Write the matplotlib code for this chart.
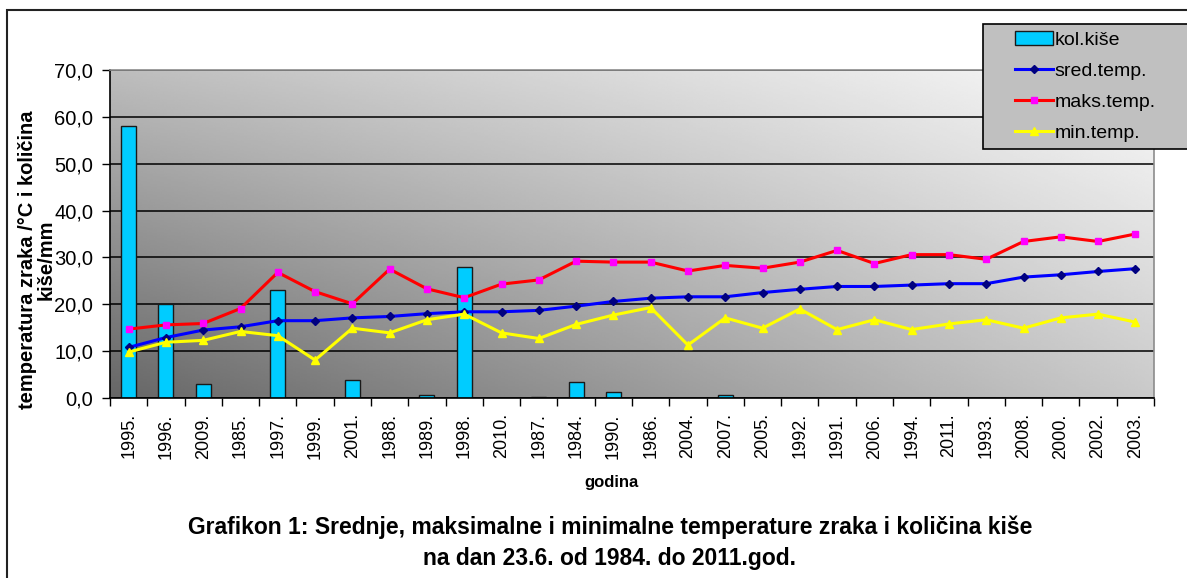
import numpy as np
import matplotlib
matplotlib.use("Agg")
import matplotlib.pyplot as plt
from matplotlib.patches import Rectangle
from matplotlib.ticker import FuncFormatter

plt.rcParams['font.family'] = ['Liberation Sans', 'DejaVu Sans']

# data
godine = ["1995.", "1996.", "2009.", "1985.", "1997.", "1999.", "2001.", "1988.",
          "1989.", "1998.", "2010.", "1987.", "1984.", "1990.", "1986.", "2004.",
          "2007.", "2005.", "1992.", "1991.", "2006.", "1994.", "2011.", "1993.",
          "2008.", "2000.", "2002.", "2003."]
kol_kise = [58.0, 20.0, 2.9, 0.0, 23.0, 0.0, 3.8, 0.0,
            0.6, 28.0, 0.0, 0.3, 3.5, 1.3, 0.0, 0.0,
            0.6, 0.0, 0.0, 0.0, 0.0, 0.0, 0.0, 0.0,
            0.0, 0.0, 0.0, 0.0]
sred_temp = [10.8, 12.9, 14.5, 15.2, 16.5, 16.5, 17.1, 17.4,
             18.0, 18.4, 18.4, 18.7, 19.6, 20.6, 21.3, 21.6,
             21.6, 22.5, 23.2, 23.8, 23.8, 24.1, 24.4, 24.4,
             25.8, 26.3, 27.0, 27.6]
maks_temp = [14.7, 15.6, 15.9, 19.1, 26.8, 22.7, 20.1, 27.5,
             23.3, 21.4, 24.3, 25.2, 29.2, 29.0, 29.0, 27.1,
             28.3, 27.7, 29.0, 31.5, 28.7, 30.6, 30.6, 29.6,
             33.4, 34.4, 33.4, 35.0]
min_temp = [9.8, 11.9, 12.3, 14.2, 13.3, 8.1, 14.9, 13.9,
            16.7, 17.9, 13.9, 12.7, 15.7, 17.7, 19.3, 11.3,
            17.1, 14.9, 19.0, 14.6, 16.7, 14.6, 15.8, 16.7,
            14.9, 17.1, 17.9, 16.2]

W, H = 1187, 578
fig = plt.figure(figsize=(W / 100, H / 100), dpi=100)
ax = fig.add_axes([110 / W, 180 / H, 1044 / W, 328 / H])

x = np.arange(len(godine))
ax.set_xlim(-0.5, len(godine) - 0.5)
ax.set_ylim(0, 70)

# grey gradient background, dark lower left -> light upper right
gx, gy = np.meshgrid(np.linspace(0, 1, 300), np.linspace(0, 1, 200))
grad = (0.40 * (1 - gx) * (1 - gy) + 0.79 * gx * (1 - gy)
        + 0.74 * (1 - gx) * gy + 0.98 * gx * gy)
ax.imshow(grad, cmap='gray', vmin=0, vmax=1, origin='lower', aspect='auto',
          extent=(-0.5, len(godine) - 0.5, 0, 70), zorder=0, interpolation='bilinear')

ax.set_axisbelow(True)
ax.yaxis.grid(True, color='black', lw=1.1)

bars = ax.bar(x, kol_kise, width=0.4, color='#00ccff', edgecolor='#1a1a1a', lw=1.0,
              zorder=2, label='kol.kiše')
l1, = ax.plot(x, sred_temp, color='#0000ff', lw=2.2, marker='D', ms=4.5,
              mfc='#000080', mec='#000080', zorder=3, label='sred.temp.')
l2, = ax.plot(x, maks_temp, color='#ff0000', lw=2.2, marker='s', ms=5,
              mfc='#ff00ff', mec='#ff00ff', zorder=3, label='maks.temp.')
l3, = ax.plot(x, min_temp, color='#ffff00', lw=2.2, marker='^', ms=6,
              mfc='#ffff00', mec='#ffff00', zorder=3, label='min.temp.')

ax.set_yticks(np.arange(0, 71, 10))
ax.yaxis.set_major_formatter(FuncFormatter(lambda v, p: f"{v:.1f}".replace('.', ',')))
ax.tick_params(axis='y', direction='out', length=6, width=1, labelsize=14.5, pad=6)

ax.set_xticks(x)
ax.set_xticklabels(godine, rotation=90, fontsize=13)
ax.set_xticks(np.arange(-0.5, len(godine), 1), minor=True)
ax.tick_params(axis='x', which='major', length=0, pad=11)
ax.tick_params(axis='x', which='minor', direction='out', length=6, width=1)

for s in ['left', 'bottom']:
    ax.spines[s].set_color('black')
    ax.spines[s].set_linewidth(1.2)
for s in ['top', 'right']:
    ax.spines[s].set_color('#8c8c8c')
    ax.spines[s].set_linewidth(1.2)

# outer frame of the chart
fig.add_artist(Rectangle((7 / W, -0.05), 1.1, 1 - 10 / H + 0.05, transform=fig.transFigure,
                         fill=False, edgecolor='#222222', lw=1.5))

fig.text(37 / W, 1 - 260 / H, "temperatura zraka /°C i količina\nkiše/mm",
         rotation=90, ha='center', va='center', multialignment='center',
         fontsize=14.5, fontweight='bold', linespacing=0.95)
fig.text(612 / W, 1 - 482 / H, "godina", ha='center', va='center',
         fontsize=12, fontweight='bold')
fig.text(610 / W, 1 - 527 / H,
         "Grafikon 1: Srednje, maksimalne i minimalne temperature zraka i količina kiše",
         ha='center', va='center', fontsize=16.5, fontweight='bold')
fig.text(610 / W, 1 - 559 / H, "na dan 23.6. od 1984. do 2011.god.",
         ha='center', va='center', fontsize=16.5, fontweight='bold')

# legend box
fig.add_artist(Rectangle((983 / W, 1 - 149 / H), 220 / W, 125 / H, transform=fig.transFigure,
                         facecolor='#c0c0c0', edgecolor='black', lw=1.2, zorder=4))
leg = fig.legend([bars, l1, l2, l3], ['kol.kiše', 'sred.temp.', 'maks.temp.', 'min.temp.'],
                 loc='upper left', bbox_to_anchor=(1015 / W, 1 - 31 / H),
                 frameon=False, fontsize=14, handlelength=1.95, handletextpad=0.08,
                 labelspacing=0.7, borderpad=0, borderaxespad=0)
leg.set_zorder(5)

fig.savefig("out.png", dpi=100)
